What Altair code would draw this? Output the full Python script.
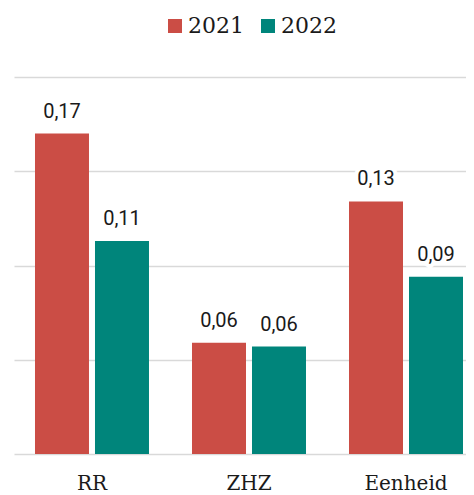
import altair as alt
import pandas as pd

categories = ["RR", "ZHZ", "Eenheid"]
years = ["2021", "2022"]
values_2021 = [0.170, 0.059, 0.134]
values_2022 = [0.113, 0.057, 0.094]
colors = ["#cb4d45", "#00857b"]

rows = []
for c, v1, v2 in zip(categories, values_2021, values_2022):
    rows.append({"cat": c, "year": years[0], "value": v1})
    rows.append({"cat": c, "year": years[1], "value": v2})
df = pd.DataFrame(rows)

x = alt.X("cat:N", sort=categories, title=None,
          scale=alt.Scale(paddingInner=0.2357, paddingOuter=0.0573, align=1),
          axis=alt.Axis(labelAngle=0, ticks=False, domain=False, labelFont="DejaVu Serif",
                        labelFontSize=20, labelColor="#1a1a1a", labelPadding=19))
xo = alt.XOffset("year:N", sort=years, scale=alt.Scale(paddingInner=0.1, paddingOuter=0.05))
y = alt.Y("value:Q", title=None, scale=alt.Scale(domain=[0, 0.2], nice=False),
          axis=alt.Axis(labels=False, ticks=False, domain=False, grid=True,
                        values=[0, 0.05, 0.1, 0.15, 0.2], gridColor="#d9d9d9", gridWidth=1.5))
color = alt.Color("year:N", sort=years, scale=alt.Scale(domain=years, range=colors),
                  legend=alt.Legend(title=None, orient="none", direction="horizontal",
                                    legendX=150, legendY=-62, symbolType="square",
                                    symbolSize=196, symbolStrokeWidth=0, labelFont="DejaVu Serif",
                                    labelFontSize=22, labelColor="#1a1a1a", labelOffset=2,
                                    columnPadding=13))

base = alt.Chart(df).encode(x=x, xOffset=xo, y=y)
bars = base.mark_bar(stroke=None).encode(color=color)
lab = base.transform_calculate(
    label="replace(format(datum.value, '.2f'), '.', ',')"
)
halo = lab.mark_text(font="Roboto", fontSize=20, baseline="alphabetic", dy=-16,
                     stroke="white", strokeWidth=8, color="white").encode(text="label:N")
txt = lab.mark_text(font="Roboto", fontSize=20, baseline="alphabetic", dy=-16,
                    color="#1a1a1a").encode(text="label:N")

chart = alt.layer(bars, halo, txt).properties(
    width=452, height=377,
    autosize=alt.AutoSizeParams(type="none"),
    padding={"left": 6, "top": 69, "right": 0, "bottom": 40},
).configure_view(stroke=None)

chart.save("out.html", embed_options={"renderer": "svg", "actions": False})
